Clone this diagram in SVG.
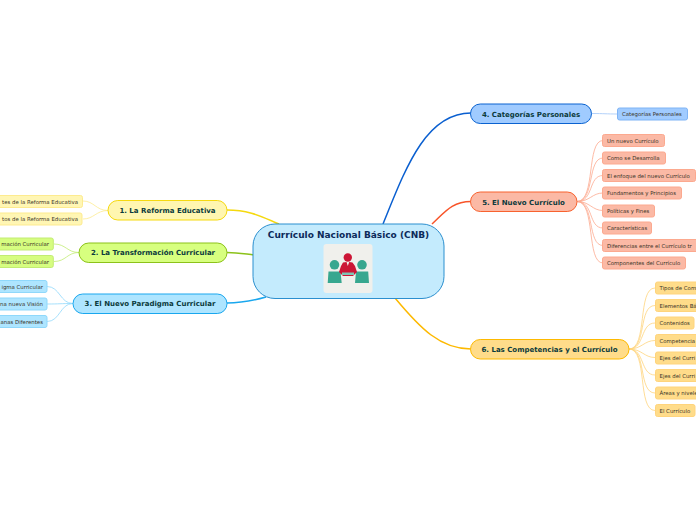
<svg xmlns="http://www.w3.org/2000/svg" width="696" height="520" viewBox="0 0 696 520">
<style>
text{font-family:"DejaVu Sans",Verdana,sans-serif}
.m{font-size:7px;font-weight:700;fill:#0b3a3c;text-anchor:middle}
.l{font-size:5.4px;fill:#3a3428}
.e{text-anchor:end}
.n rect{stroke-width:1}
.c path{fill:none}
.y rect{fill:#fff6b4;stroke:#fdeb8f}
.g rect{fill:#d6fd80;stroke:#c2ec73}
.b rect{fill:#aee5ff;stroke:#8fd8fb}
.p rect{fill:#a0cbff;stroke:#7fb4f5}
.o rect{fill:#fbb9a5;stroke:#fca98f}
.a rect{fill:#ffdc8a;stroke:#ffd47c}
</style>
<g class="c" id="connectors">
<g stroke-width="1.5">
<path d="M383 224C405 170 425 113 471 113" stroke="#0a5fd0"/>
<path d="M432 224C445 212 452 201.500 471 201.500" stroke="#f8552a"/>
<path d="M395 298C420 328 440 349 471 349" stroke="#fdb900"/>
<path d="M227 210C250 210 262 217 279 224" stroke="#f5d90f"/>
<path d="M227 252.500C238 252.500 245 254 254 255" stroke="#8cc21a"/>
<path d="M227 303C242 303 252 301 266 297" stroke="#1aa7ee"/>
</g>
<g stroke-width="0.8" stroke="#fdeb8f">
<path d="M108 210.500C96 210.500 94 201 83 201"/>
<path d="M108 210.500C96 210.500 94 219 83 219"/>
</g>
<g stroke-width="0.8" stroke="#c2ec73">
<path d="M79 252.500C67 252.500 66 244 54 244"/>
<path d="M79 252.500C67 252.500 66 261.500 54 261.500"/>
</g>
<g stroke-width="0.8" stroke="#8fd8fb">
<path d="M73 303.500C60 303.500 60 286.500 47 286.500"/>
<path d="M73 303.500C60 303.500 60 304 47 304"/>
<path d="M73 303.500C60 303.500 60 321.500 47 321.500"/>
</g>
<path d="M592 113.500C604 113.500 606 114 618 114" stroke="#9fc5f8" stroke-width="0.8"/>
<g stroke-width="0.8" stroke="#fca98f">
<path d="M577 201.500C596 201.500 586 140.500 603 140.500"/>
<path d="M577 201.500C595 201.500 587 158 603 158"/>
<path d="M577 201.500C594 201.500 588 175.500 603 175.500"/>
<path d="M577 201.500C590 201.500 592 193 603 193"/>
<path d="M577 201.500C590 201.500 592 210.500 603 210.500"/>
<path d="M577 201.500C594 201.500 588 228 603 228"/>
<path d="M577 201.500C595 201.500 587 245.500 603 245.500"/>
<path d="M577 201.500C596 201.500 586 263 603 263"/>
</g>
<g stroke-width="0.8" stroke="#ffd47c">
<path d="M629 349C648 349 637 288 655 288"/>
<path d="M629 349C647 349 638 305.500 655 305.500"/>
<path d="M629 349C645 349 640 323 655 323"/>
<path d="M629 349C642 349 644 340.500 655 340.500"/>
<path d="M629 349C642 349 644 357.500 655 357.500"/>
<path d="M629 349C645 349 640 375 655 375"/>
<path d="M629 349C647 349 638 393 655 393"/>
<path d="M629 349C648 349 637 410.500 655 410.500"/>
</g>
</g>
<g id="center">
<rect x="253" y="224" width="191" height="74.500" rx="22" fill="#c4ebfd" stroke="#2b8fcf"/>
<text x="348.500" y="238" font-size="9" font-weight="700" fill="#0c2a5a" text-anchor="middle">Currículo Nacional Básico (CNB)</text>
<rect x="323.500" y="244" width="49" height="49" rx="3" fill="#f0f0ec"/>
<circle cx="334.500" cy="264.800" r="4.800" fill="#37a78f"/>
<circle cx="362" cy="264.800" r="4.800" fill="#37a78f"/>
<path d="M328.500 271.500H340.500L341.700 283H327.700ZM356 271.500H368.200L369 283H355Z" fill="#37a78f"/>
<circle cx="347.800" cy="257.500" r="4.200" fill="#cc1535"/>
<path d="M343 262.500L346.500 262L347.800 266L349.200 262L352.500 262.500L355 266L357 272L353 276H343L339 272L341 266Z" fill="#cc1535"/>
<rect x="342" y="272.500" width="12" height="2.500" fill="#7fc4b4"/>
<rect x="342" y="276" width="12" height="7" fill="#f0f0ec"/>
</g>
<g id="node1" class="n"><rect x="108" y="200.500" width="119" height="19.500" rx="9.750" fill="#fff6b0" stroke="#f5d90f"/><text class="m" x="167.500" y="213">1. La Reforma Educativa</text></g>
<g id="node2" class="n"><rect x="79" y="243" width="148" height="19.500" rx="9.750" fill="#d7ff7f" stroke="#8cc21a"/><text class="m" x="153" y="255.300">2. La Transformación Curricular</text></g>
<g id="node3" class="n"><rect x="73" y="294" width="154" height="19.500" rx="9.750" fill="#aee5ff" stroke="#1aa7ee"/><text class="m" x="150" y="306">3. El Nuevo Paradigma Curricular</text></g>
<g id="node4" class="n"><rect x="470.500" y="104" width="121" height="19.500" rx="9.750" fill="#a0cbff" stroke="#0a62d0"/><text class="m" x="531" y="116.500">4. Categorías Personales</text></g>
<g id="node5" class="n"><rect x="470.500" y="192" width="106.500" height="19.500" rx="9.750" fill="#fbb9a5" stroke="#f8622f"/><text class="m" x="523.500" y="204.500">5. El Nuevo Currículo</text></g>
<g id="node6" class="n"><rect x="470.500" y="339.500" width="158.500" height="19.500" rx="9.750" fill="#ffdc8a" stroke="#fdb900"/><text class="m" x="549.500" y="352">6. Las Competencias y el Currículo</text></g>
<g class="y">
<g id="leaf1a"><rect x="-40" y="195.500" width="122.500" height="12" rx="2"/><text class="l e" x="78" y="203.500">tes de la Reforma Educativa</text></g>
<g id="leaf1b"><rect x="-40" y="213" width="122" height="12" rx="2"/><text class="l e" x="78" y="221">tos de la Reforma Educativa</text></g>
</g>
<g class="g">
<g id="leaf2a"><rect x="-40" y="238" width="93.300" height="12" rx="2"/><text class="l e" x="49" y="246">mación Curricular</text></g>
<g id="leaf2b"><rect x="-40" y="255.500" width="93.300" height="12" rx="2"/><text class="l e" x="49" y="263.800">mación Curricular</text></g>
</g>
<g class="b">
<g id="leaf3a"><rect x="-40" y="280.500" width="87" height="12" rx="2"/><text class="l e" x="43" y="289">igma Curricular</text></g>
<g id="leaf3b"><rect x="-40" y="298" width="87" height="12" rx="2"/><text class="l e" x="43" y="306">na nueva Visión</text></g>
<g id="leaf3c"><rect x="-40" y="315.500" width="87" height="12" rx="2"/><text class="l e" x="43" y="324">anas Diferentes</text></g>
</g>
<g class="p"><g id="leaf4a"><rect x="617.500" y="108" width="70" height="12" rx="2"/><text class="l" x="622" y="116">Categorías Personales</text></g></g>
<g class="o">
<g id="leaf5a"><rect x="602.500" y="134.500" width="62" height="12" rx="2"/><text class="l" x="607" y="142.800">Un nuevo Currículo</text></g>
<g id="leaf5b"><rect x="602.500" y="152" width="63" height="12" rx="2"/><text class="l" x="607" y="160.300">Como se Desarrolla</text></g>
<g id="leaf5c"><rect x="602.500" y="169.500" width="93" height="12" rx="2"/><text class="l" x="607" y="178">El enfoque del nuevo Currículo</text></g>
<g id="leaf5d"><rect x="602.500" y="187" width="79" height="12" rx="2"/><text class="l" x="607" y="195.300">Fundamentos y Principios</text></g>
<g id="leaf5e"><rect x="602.500" y="205" width="52" height="12" rx="2"/><text class="l" x="607" y="213">Políticas y Fines</text></g>
<g id="leaf5f"><rect x="602.500" y="222" width="49" height="12" rx="2"/><text class="l" x="607" y="230.300">Características</text></g>
<g id="leaf5g"><rect x="602.500" y="239.500" width="120" height="12" rx="2"/><text class="l" x="607" y="248">Diferencias entre el Currículo tr</text></g>
<g id="leaf5h"><rect x="602.500" y="257" width="83" height="12" rx="2"/><text class="l" x="607" y="265.300">Componentes del Currículo</text></g>
</g>
<g class="a">
<g id="leaf6a"><rect x="655.500" y="282" width="70" height="12" rx="2"/><text class="l" x="659.500" y="290">Tipos de Com</text></g>
<g id="leaf6b"><rect x="655.500" y="299.500" width="70" height="12" rx="2"/><text class="l" x="659.500" y="308">Elementos Bá</text></g>
<g id="leaf6c"><rect x="655.500" y="317" width="38.500" height="12" rx="2"/><text class="l" x="659.500" y="325.300">Contenidos</text></g>
<g id="leaf6d"><rect x="655.500" y="334.500" width="70" height="12" rx="2"/><text class="l" x="659.500" y="343">Competencia</text></g>
<g id="leaf6e"><rect x="655.500" y="352" width="70" height="12" rx="2"/><text class="l" x="659.500" y="360">Ejes del Curri</text></g>
<g id="leaf6f"><rect x="655.500" y="369.500" width="70" height="12" rx="2"/><text class="l" x="659.500" y="378">Ejes del Curri</text></g>
<g id="leaf6g"><rect x="655.500" y="387" width="70" height="12" rx="2"/><text class="l" x="659.500" y="395">Áreas y nivele</text></g>
<g id="leaf6h"><rect x="655.500" y="404.500" width="39.500" height="12" rx="2"/><text class="l" x="659.500" y="413">El Currículo</text></g>
</g>
</svg>
